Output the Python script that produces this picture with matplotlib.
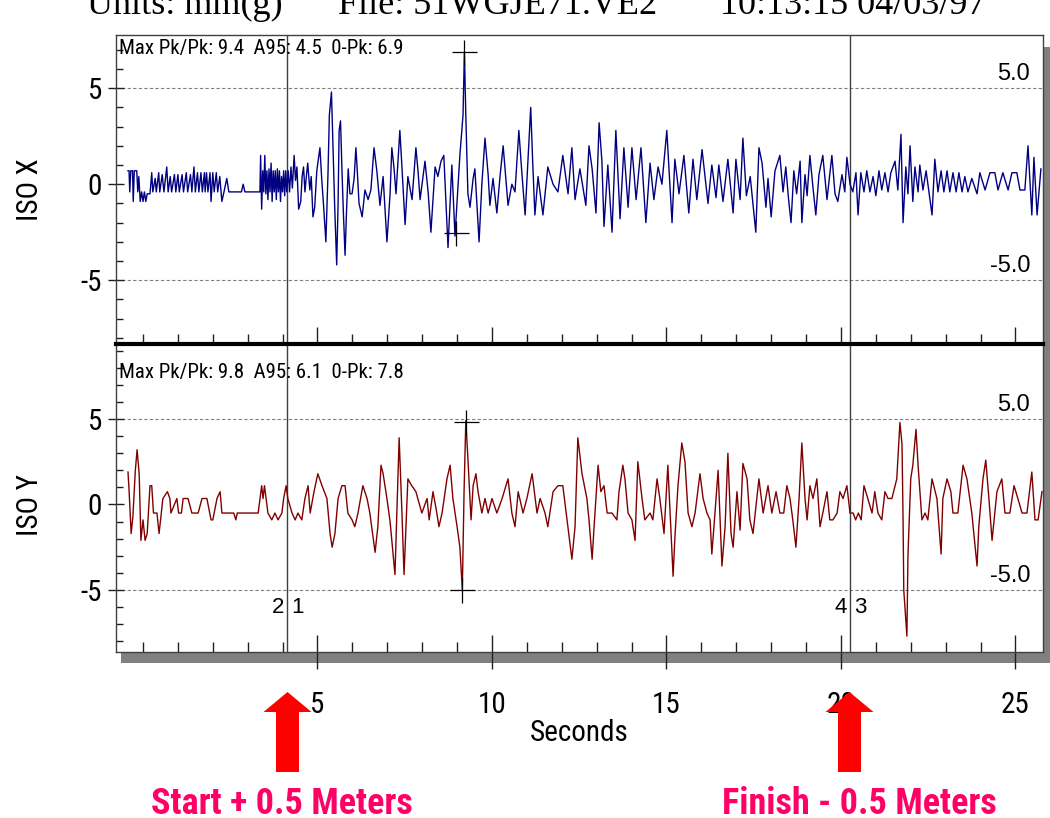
import matplotlib
matplotlib.use('Agg')
import matplotlib.pyplot as plt
from matplotlib.patches import Rectangle, Polygon
from matplotlib.lines import Line2D

# ---------------- data ----------------
x_time = [-0.43, -0.40, -0.38, -0.35, -0.30, -0.28, -0.25, -0.18, -0.15, -0.12, -0.08, -0.04, 0.00, 0.04, 0.08, 0.12,
          0.20, 0.25, 0.28, 0.35, 0.38, 0.45, 0.48, 0.55, 0.60, 0.68, 0.72, 0.78, 0.82, 0.90, 0.94, 1.00, 1.04, 1.12,
          1.16, 1.24, 1.28, 1.36, 1.40, 1.46, 1.50, 1.56, 1.60, 1.66, 1.70, 1.76, 1.78, 1.82, 1.86, 1.92, 1.95, 2.00,
          2.04, 2.10, 2.14, 2.20, 2.26, 2.32, 2.40, 2.46, 2.82, 2.87, 2.92, 3.30, 3.35, 3.37, 3.40, 3.43, 3.46, 3.49,
          3.52, 3.55, 3.58, 3.61, 3.64, 3.67, 3.70, 3.73, 3.76, 3.79, 3.82, 3.85, 3.88, 3.91, 3.94, 3.97, 4.00, 4.03,
          4.06, 4.09, 4.12, 4.16, 4.20, 4.24, 4.28, 4.33, 4.37, 4.41, 4.46, 4.52, 4.56, 4.60, 4.64, 4.68, 4.72, 4.78,
          4.82, 4.87, 4.92, 4.98, 5.07, 5.12, 5.17, 5.24, 5.30, 5.34, 5.40, 5.45, 5.49, 5.55, 5.59, 5.62, 5.66, 5.70,
          5.74, 5.79, 5.83, 5.88, 5.93, 5.99, 6.05, 6.10, 6.14, 6.19, 6.28, 6.36, 6.45, 6.53, 6.62, 6.70, 6.79, 6.88,
          6.99, 7.08, 7.13, 7.19, 7.25, 7.36, 7.42, 7.51, 7.59, 7.71, 7.82, 7.88, 7.94, 8.08, 8.17, 8.25, 8.37, 8.45,
          8.54, 8.62, 8.74, 8.85, 8.94, 9.08, 9.17, 9.21, 9.25, 9.31, 9.37, 9.46, 9.51, 9.63, 9.71, 9.80, 9.89, 9.94,
          10.03, 10.14, 10.23, 10.32, 10.40, 10.46, 10.57, 10.66, 10.77, 10.86, 10.95, 11.11, 11.17, 11.23, 11.32,
          11.46, 11.60, 11.75, 11.89, 12.03, 12.18, 12.29, 12.38, 12.52, 12.69, 12.78, 12.87, 12.98, 13.07, 13.15,
          13.21, 13.32, 13.44, 13.55, 13.67, 13.78, 13.90, 14.01, 14.13, 14.27, 14.41, 14.53, 14.64, 14.76, 14.87,
          15.01, 15.16, 15.24, 15.36, 15.50, 15.64, 15.76, 15.87, 16.02, 16.19, 16.30, 16.42, 16.50, 16.62, 16.76,
          16.91, 16.99, 17.11, 17.19, 17.29, 17.40, 17.56, 17.65, 17.74, 17.85, 17.91, 18.00, 18.11, 18.25, 18.34,
          18.42, 18.50, 18.57, 18.65, 18.73, 18.83, 18.88, 18.97, 19.03, 19.11, 19.20, 19.28, 19.37, 19.48, 19.60,
          19.74, 19.83, 19.91, 20.03, 20.11, 20.17, 20.26, 20.34, 20.43, 20.49, 20.57, 20.66, 20.74, 20.83, 20.92,
          21.00, 21.09, 21.17, 21.26, 21.35, 21.43, 21.55, 21.63, 21.72, 21.78, 21.86, 21.92, 21.98, 22.06, 22.12,
          22.21, 22.26, 22.35, 22.44, 22.52, 22.61, 22.69, 22.78, 22.87, 22.95, 23.04, 23.12, 23.21, 23.30, 23.38,
          23.47, 23.55, 23.64, 23.75, 23.90, 23.98, 24.13, 24.27, 24.41, 24.50, 24.64, 24.79, 24.90, 25.04, 25.13,
          25.27, 25.36, 25.47, 25.53, 25.62, 25.73]
x_vals = [0.7, 0.7, -0.4, 0.7, 0.7, -0.9, 0.7, 0.7, -0.4, 0.4, -0.9, -0.4, -0.9, -0.4, -0.9, -0.5,
          -0.5, 0.6, -0.4, 0.3, -0.4, 0.6, -0.4, 0.5, -0.4, 0.9, -0.4, 0.4, -0.4, 0.5, -0.4, 0.5, -0.4, 0.5,
          -0.4, 0.6, -0.4, 0.5, -0.4, 0.9, -0.4, 0.6, -0.4, 0.6, -0.4, 0.6, -0.4, 0.6, -0.4, 0.6, -0.9, 0.6,
          -0.4, 0.6, -0.4, 0.4, -0.9, -0.4, 0.3, -0.4, -0.4, 0.0, -0.4, -0.4, -0.4, 1.5, -1.3, 0.7, -0.4, 1.5,
          -0.5, 0.7, -0.8, 0.8, -0.4, 1.1, -0.9, 0.7, -0.4, 0.7, -0.8, 0.8, -0.4, 0.7, -0.9, 0.4, -0.4, 0.7,
          -0.6, 0.7, -0.4, 0.7, -0.4, 0.9, -0.2, 1.5, 0.2, 0.9, -1.3, -0.9, 0.4, 0.9, -0.4, 0.4, 1.1, -0.3,
          0.4, -1.7, -1.2, 0.7, 1.9, 0.3, -1.0, -3.0, 0.5, 3.6, 4.8, 1.5, -1.0, -4.2, -1.0, 2.8, 3.3, 0.8,
          -1.4, -3.7, -1.5, 0.8, -0.5, -0.5, 0.3, 1.9, 0.7, -1.0, -1.7, -0.3, -0.8, -0.3, 1.9, 0.7, -1.1, 0.4,
          -3.0, -0.5, 1.9, 0.9, -0.5, 2.8, 0.9, -2.1, 0.4, -0.8, 1.9, 0.7, -0.8, 1.2, -0.4, -2.5, 0.9, 0.4,
          1.2, 1.5, -3.3, 1.0, -2.7, 1.5, 3.6, 6.9, 3.6, -0.5, -1.2, 0.3, 0.8, -3.0, 0.0, 2.4, 0.5, -1.1,
          0.3, -1.5, 0.4, 2.0, 0.2, -1.1, 0.0, -0.4, 2.8, 0.5, -1.6, 4.0, 1.0, -1.6, 0.4,
          -1.6, 0.9, 0.0, -0.4, 1.5, -0.5, 1.9, -0.8, 0.8, -1.1, 2.0, 0.8, -1.5, 3.2, 1.2,
          -2.2, 1.0, -2.5, 2.8, -1.8, 1.9, -1.2, 1.9, -0.8, 1.9, -2.0, 1.1, -0.8, 0.9, 0.0,
          2.8, -2.0, 1.3, -0.5, 1.5, -1.5, 1.3, -0.8, 1.8, -1.0, 1.0, -0.7, 1.0, -0.9, 1.3,
          -1.5, 1.3, -0.8, 2.4, -0.6, 0.4, -2.5, 1.9, 1.1, -1.2, 0.3, -1.7, 0.7, 1.5, -0.4,
          0.9, -0.8, -2.0, 0.7, -0.5, 1.2, -2.0, 0.5, -0.6, 1.5, -0.2, -1.6, 0.5, 1.5, -0.8,
          1.5, -0.5, -0.9, 0.5, -0.4, 1.4, 0.0, -0.4, 0.6, -1.6, 0.6, -0.4, 0.7, -0.4, 0.4,
          -0.6, 0.7, -0.3, 0.6, -0.4, 0.6, 1.2, -0.3, 2.6, -2.0, 0.9, -0.5, 2.0, -0.9, 0.9,
          -0.4, 1.0, -0.3, 0.7, -0.4, -1.6, 1.3, -0.4, 0.7, -0.4, 0.7, -0.4, 0.6, -0.4, 0.6,
          -0.4, 0.4, -0.4, 0.3, -0.5, 0.6, -0.3, 0.6, 0.6, -0.3, 0.6, -0.3, 0.6, 0.6, -0.3,
          -0.3, 2.0, -1.6, 1.4, -1.6, 0.8]

y_time = [-0.43, -0.40, -0.34, -0.29, -0.22, -0.17, -0.11, -0.06, 0.00, 0.06, 0.12, 0.20, 0.25, 0.30, 0.40, 0.46,
          0.57, 0.70, 0.77, 0.80, 0.97, 1.02, 1.10, 1.15, 1.29, 1.40, 1.58, 1.69, 1.83, 1.95, 2.00, 2.12, 2.21,
          2.26, 2.60, 2.66, 2.70, 3.30, 3.40, 3.44, 3.48, 3.58, 3.69, 3.78, 3.87, 3.98, 4.03, 4.10, 4.15, 4.27,
          4.36, 4.44, 4.55, 4.64, 4.73, 4.79, 4.90, 5.01, 5.13, 5.27, 5.36, 5.42, 5.50, 5.59, 5.70, 5.79, 5.87,
          5.99, 6.07, 6.16, 6.30, 6.42, 6.50, 6.65, 6.73, 6.82, 6.88, 6.99, 7.08, 7.22, 7.34, 7.42, 7.48, 7.59,
          7.70, 7.82, 7.99, 8.14, 8.20, 8.31, 8.42, 8.48, 8.57, 8.71, 8.80, 8.88, 9.00, 9.08, 9.15, 9.20, 9.25,
          9.31, 9.40, 9.46, 9.54, 9.60, 9.71, 9.80, 9.89, 10.00, 10.14, 10.29, 10.46, 10.57, 10.66, 10.75,
          10.89, 11.00, 11.15, 11.29, 11.38, 11.52, 11.60, 11.75, 11.89, 12.03, 12.15, 12.29, 12.38, 12.46,
          12.58, 12.72, 12.78, 12.87, 12.92, 13.00, 13.04, 13.12, 13.21, 13.30, 13.44, 13.58, 13.64, 13.75,
          13.81, 13.90, 14.01, 14.10, 14.18, 14.30, 14.38, 14.53, 14.61, 14.73, 14.81, 14.93, 15.04, 15.19,
          15.24, 15.33, 15.44, 15.53, 15.62, 15.73, 15.82, 15.96, 16.05, 16.16, 16.25, 16.30, 16.39, 16.48,
          16.59, 16.68, 16.76, 16.85, 16.91, 17.02, 17.11, 17.19, 17.31, 17.39, 17.48, 17.65, 17.77, 17.91,
          18.02, 18.14, 18.25, 18.36, 18.45, 18.54, 18.62, 18.71, 18.80, 18.88, 18.97, 19.03, 19.11, 19.20,
          19.31, 19.40, 19.48, 19.60, 19.68, 19.77, 19.89, 19.97, 20.06, 20.17, 20.26, 20.35, 20.42, 20.50,
          20.58, 20.66, 20.77, 20.89, 20.97, 21.06, 21.17, 21.26, 21.35, 21.46, 21.55, 21.60, 21.69, 21.75,
          21.78, 21.80, 21.89, 21.92, 22.00, 22.06, 22.15, 22.21, 22.32, 22.41, 22.49, 22.61, 22.75, 22.87,
          22.92, 23.04, 23.15, 23.21, 23.35, 23.50, 23.61, 23.75, 23.90, 23.95, 24.07, 24.15, 24.24, 24.33,
          24.47, 24.61, 24.70, 24.84, 24.96, 25.07, 25.19, 25.33, 25.47, 25.56, 25.65, 25.76]
y_vals = [1.9, 0.85, -1.7, -0.7, 2.0, 3.2, 1.8, -2.1, -0.9, -2.1, -1.7, 1.1, 1.1, -0.5, -0.5, -1.7,
          0.35, 0.75, 0.35, -0.5, 0.35, -0.5, -0.5, 0.35, 0.35, -0.5, -0.5, 0.35, 0.35, -0.9, -0.9, 0.35, 0.75,
          -0.5, -0.5, -0.9, -0.5, -0.5, 1.1, 0.35, 1.1, -0.5, -0.9, -0.5, -0.9, -0.5, 0.35, 1.1, 0.35, -0.5,
          -0.9, -0.5, -0.9, 0.35, 1.1, -0.5, 0.75, 1.8, 1.1, 0.35, -1.7, -2.5, -1.7, 0.35, 1.1, 1.1, -0.5,
          -0.9, -1.3, -0.5, 1.1, 0.35, -0.5, -2.8, -1.3, 2.3, 1.8, 0.35, -1.0, -4.1, 3.9, -0.5, -4.1, 1.5,
          1.1, 0.75, -0.5, 0.35, -0.9, 0.75, -0.5, -1.3, -0.5, 1.5, 2.3, 0.35, -1.3, -2.5, -5.0, 0.75, 4.9,
          2.7, -0.9, 1.1, 1.8, 0.75, -0.5, 0.35, -0.5, 0.35, -0.5, 0.35, 1.5, -0.5, -1.3, 0.75,
          -0.5, 0.35, 1.8, -0.5, 0.35, -0.5, -1.3, 0.75, 1.1, 1.1, -0.9, -3.2, -1.3, 3.9,
          1.8, 0.35, -0.9, -3.2, -1.5, 1.1, 2.3, 0.75, 1.1, -0.5, -0.5, -0.9, 0.75, 2.3,
          1.5, -0.5, -0.9, -2.1, 2.5, 0.35, -0.9, -0.5, -0.9, 1.5, 0.35, -1.7, 2.3, -4.2,
          -2.0, 1.1, 3.6, 2.5, -0.5, -1.3, -0.5, 1.8, 0.35, -0.5, -0.9, -2.9, -0.5, 2.0,
          -3.6, -1.3, 3.0, -1.7, -2.5, 0.75, -1.5, 2.4, 1.5, -0.9, -1.7, 1.5, -0.5, 1.1,
          -0.5, 0.75, -0.5, -0.5, 1.1, 0.35, -0.9, -2.5, 0.35, 3.6, 0.35, -0.9, 1.1, 0.35,
          1.5, -1.3, -0.5, 0.75, -0.9, -0.9, -0.5, 0.75, 0.35, 1.1, -0.5, -0.5, -0.9, -0.5,
          -0.9, 1.1, 0.35, -0.5, 0.75, -0.5, -0.9, 0.75, 0.35, 0.35, 1.1, 1.5, 4.8, 3.5,
          -0.9, -5.0, -7.7, -3.0, 1.5, 2.3, 4.4, 2.3, -0.9, -0.5, -0.9, 1.5, 0.35, -2.9,
          0.35, 1.5, 0.75, -0.5, -0.5, 2.3, 1.5, -0.5, -3.6, -1.3, 1.5, 2.6, 0.35, -2.1,
          0.75, 1.5, -0.5, -0.5, 1.1, 0.35, -0.5, -0.5, 1.9, -0.9, -0.9, 0.75]

x_peak_marks = [(9.21, 6.87), (8.97, -2.52)]
y_peak_marks = [(9.25, 4.84), (9.15, -5.0)]
event_times = [4.12, 20.26]
event_labels = [("2", "1"), ("4", "3")]
x_stats = "Max Pk/Pk: 9.4  A95: 4.5  0-Pk: 6.9"
y_stats = "Max Pk/Pk: 9.8  A95: 6.1  0-Pk: 7.8"
major_xticks = [5, 10, 15, 20, 25]
minor_xticks = list(range(0, 26))
header_texts = [("Units: mm(g)", 87), ("File: 51WGJE71.VE2", 338), ("10:13:15 04/03/97", 720)]
arrow_notes = [("Start + 0.5 Meters", 287.5, 282), ("Finish - 0.5 Meters", 849.5, 859)]

# ---------------- figure ----------------
W, H = 1050, 818
NARROW = ['Roboto Condensed', 'Liberation Sans']
REG = ['Liberation Sans', 'DejaVu Sans']
SERIF = ['Liberation Serif', 'DejaVu Serif']
NSTRETCH = 'condensed'

def fx(px):
    return px / W

def fy(py):
    return 1 - py / H

fig = plt.figure(figsize=(W / 100, H / 100), dpi=100)
fig.patch.set_facecolor('white')

# drop shadow
fig.add_artist(Rectangle((fx(121), fy(663)), fx(1051) - fx(121), fy(47) - fy(663),
                         transform=fig.transFigure, facecolor='#808080', edgecolor='none', zorder=-5))

ax1 = fig.add_axes([fx(116), fy(344), fx(1043) - fx(116), fy(35) - fy(344)])
ax2 = fig.add_axes([fx(116), fy(652), fx(1043) - fx(116), fy(344) - fy(652)])

panels = [
    (ax1, x_time, x_vals, '#000080', (-8.32, 7.77), x_peak_marks, x_stats, 'ISO X'),
    (ax2, y_time, y_vals, '#800000', (-8.63, 9.39), y_peak_marks, y_stats, 'ISO Y'),
]

for ax, t, v, col, ylim, marks, stats, ylab in panels:
    ax.set_facecolor('white')
    ax.plot(t, v, color=col, lw=1.0, zorder=3)
    ax.set_xlim(-0.774, 25.79)
    ax.set_ylim(*ylim)
    for yv in (5, -5):
        ax.axhline(yv, color='#808080', lw=0.8, ls=(0, (3, 2)), zorder=1)
    for et in event_times:
        ax.axvline(et, color='#404040', lw=1.0, zorder=2)
    for (mt, mv) in marks:
        ax.plot([mt], [mv], marker='+', ms=18, mew=0.9, color='black', ls='none', zorder=4)
    ax.set_xticks(major_xticks)
    ax.set_xticks(minor_xticks, minor=True)
    ax.set_yticks([-5, 0, 5])
    ax.set_yticks(list(range(int(ylim[0]), int(ylim[1]) + 1)), minor=True)
    ax.set_yticklabels(['-5', '0', '5'])
    ax.tick_params(axis='x', which='major', direction='inout', length=24, width=1, color='#202020')
    ax.tick_params(axis='x', which='minor', direction='in', length=7, width=1, color='#202020')
    ax.tick_params(axis='y', which='major', direction='inout', length=12, width=1, color='#202020', pad=4)
    ax.tick_params(axis='y', which='minor', direction='in', length=5, width=1, color='#202020')
    for lab in ax.get_yticklabels():
        lab.set_fontfamily(NARROW)
        lab.set_fontstretch(NSTRETCH)
        lab.set_fontsize(21)
    for sp in ax.spines.values():
        sp.set_color('#404040')
        sp.set_linewidth(1.0)
    ax.text(0.003, 0.955 if ax is ax1 else 0.909, stats, transform=ax.transAxes, va='center', ha='left',
            fontsize=15, family=NARROW, fontstretch=NSTRETCH, zorder=5)
    for yv, lab in ((5, '5.0'), (-5, '-5.0')):
        ax.annotate(lab, xy=(0.986, yv), xycoords=('axes fraction', 'data'), xytext=(0, 2),
                    textcoords='offset points', ha='right', va='bottom', fontsize=17, family=REG)
    ax.set_ylabel(ylab, fontsize=21, family=NARROW, fontstretch=NSTRETCH)
    ax.yaxis.label.set_va('center')
    ax.yaxis.set_label_coords(-0.093, 0.5 if ax is ax1 else 0.477)

ax1.tick_params(axis='x', labelbottom=False)
ax1.spines['bottom'].set_visible(False)
ax2.spines['top'].set_visible(False)
ax2.tick_params(axis='x', which='major', pad=16, labelsize=21)
for lab in ax2.get_xticklabels():
    lab.set_fontfamily(NARROW)
    lab.set_fontstretch(NSTRETCH)
ax2.set_xlabel('Seconds', fontsize=21, family=NARROW, fontstretch=NSTRETCH)
ax2.xaxis.set_label_coords(0.5, -0.263)
ax2.xaxis.label.set_va('center')

for et, (l, r) in zip(event_times, event_labels):
    ax2.annotate(l, xy=(et, -6.05), xytext=(-2, 0), textcoords='offset points', ha='right', va='center',
                 fontsize=16, family=REG)
    ax2.annotate(r, xy=(et, -6.05), xytext=(3, 0), textcoords='offset points', ha='left', va='center',
                 fontsize=16, family=REG)

# divider between the panels
fig.add_artist(Line2D([fx(116), fx(1043)], [fy(344), fy(344)], transform=fig.transFigure,
                      color='black', lw=3, zorder=10))

# header text, cut at the top edge as in the source
for txt, px in header_texts:
    fig.text(fx(px), fy(14), txt, ha='left', va='baseline', fontsize=26, family=SERIF)

# red arrows and notes
for note, ax_px, tx_px in arrow_notes:
    verts = [(ax_px, 692), (ax_px + 24, 712), (ax_px + 11.5, 712), (ax_px + 11.5, 772),
             (ax_px - 11.5, 772), (ax_px - 11.5, 712), (ax_px - 24, 712)]
    fig.add_artist(Polygon([(fx(a), fy(b)) for a, b in verts], closed=True, transform=fig.transFigure,
                           facecolor='#FF0000', edgecolor='none', zorder=10))
    fig.text(fx(tx_px), fy(804), note, ha='center', va='center', fontsize=26, fontweight='bold',
             family=NARROW, fontstretch=NSTRETCH, color='#FF0066')

fig.savefig('out.png', dpi=100)
